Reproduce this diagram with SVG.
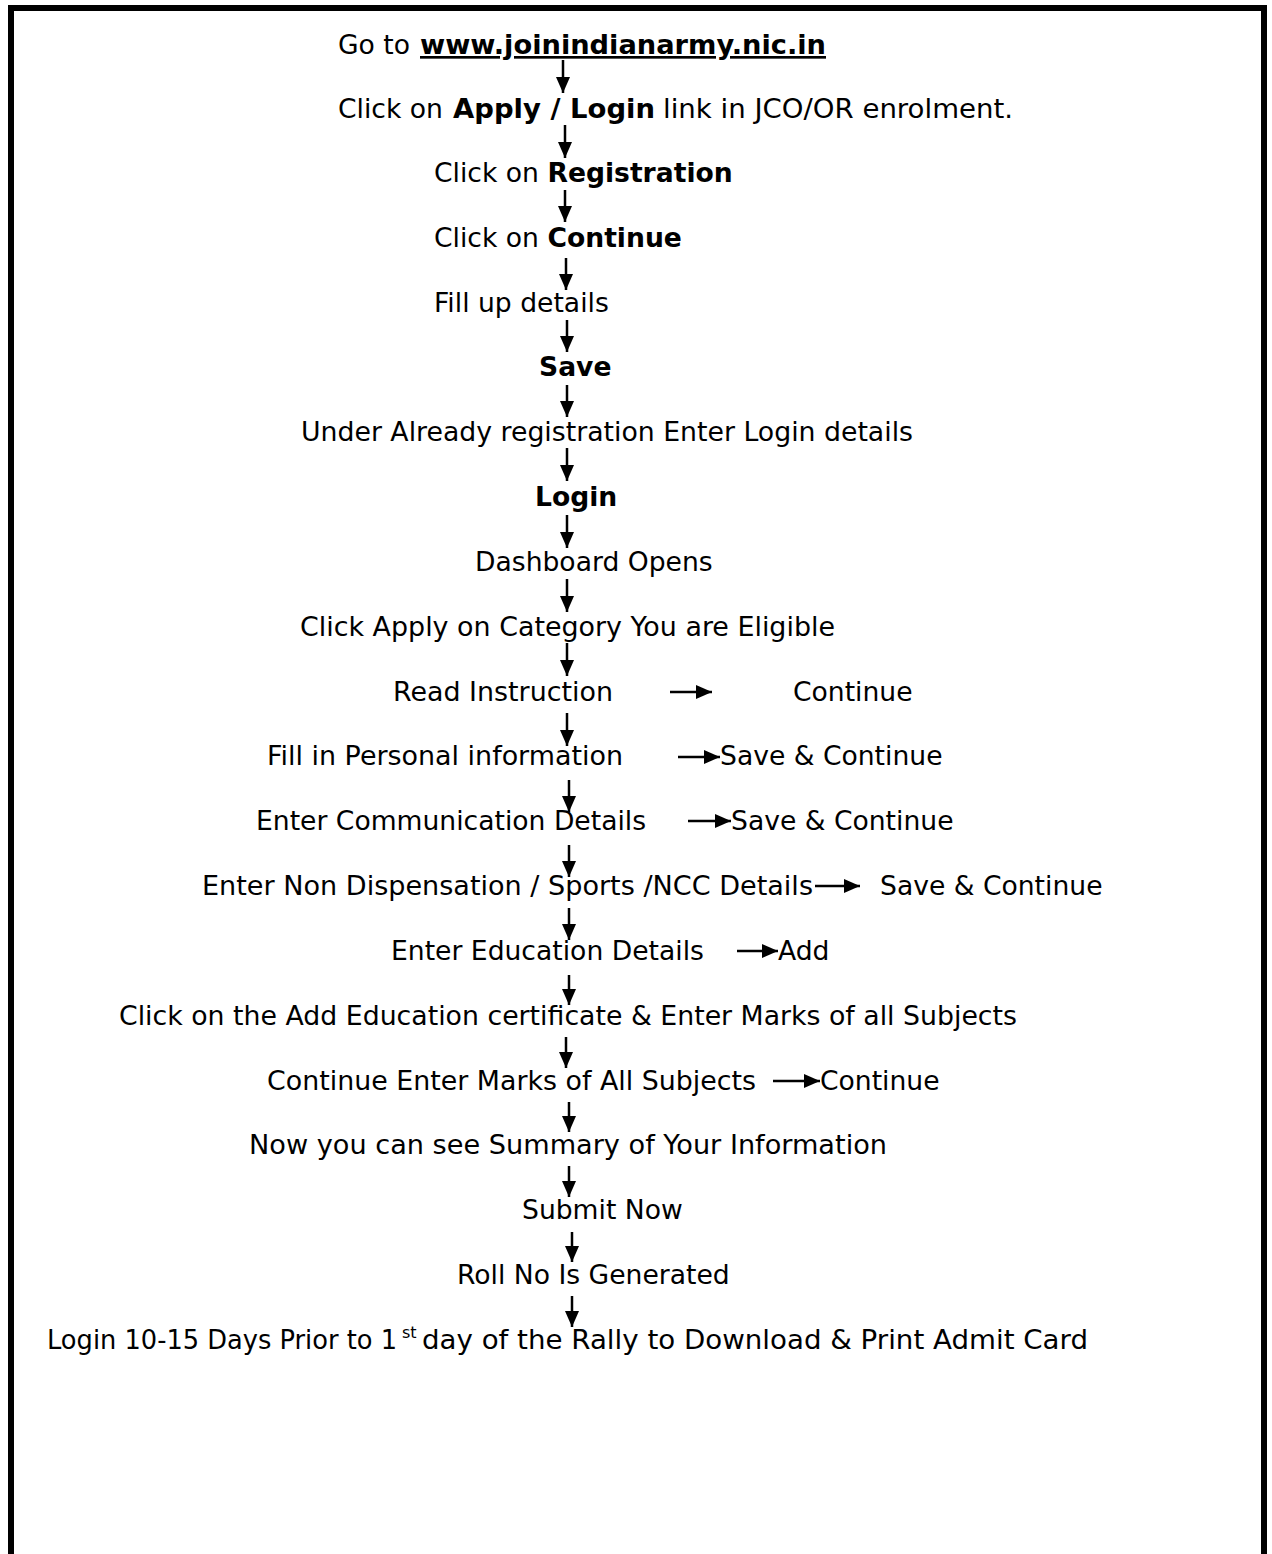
<svg xmlns="http://www.w3.org/2000/svg" width="1272" height="1554" viewBox="0 0 1272 1554">
<style>
text{font-family:"DejaVu Sans","Liberation Sans",sans-serif;font-size:26.6px;fill:#000}
.b{font-weight:bold}
.u{text-decoration:underline}
.c line{stroke:#000;stroke-width:2.5;marker-end:url(#ah)}
</style>
<defs>
<marker id="ah" viewBox="0 0 16 14" refX="16" refY="7" markerWidth="16" markerHeight="14" markerUnits="userSpaceOnUse" orient="auto">
<path d="M0,0 L16,7 L0,14 z" fill="#000"/>
</marker>
</defs>
<rect x="0" y="0" width="1272" height="1554" fill="#fff"/>
<rect x="11" y="8" width="1253" height="1600" fill="none" stroke="#000" stroke-width="6"/>
<g id="n1"><text x="338" y="54">Go to <tspan class="b u" x="420" textLength="406" lengthAdjust="spacingAndGlyphs">www.joinindianarmy.nic.in</tspan></text></g>
<g id="n2"><text x="338" y="118">Click on <tspan class="b" x="453" textLength="202" lengthAdjust="spacingAndGlyphs">Apply / Login</tspan><tspan x="663" textLength="350" lengthAdjust="spacingAndGlyphs">link in JCO/OR enrolment.</tspan></text></g>
<g id="n3"><text x="434" y="182">Click on <tspan class="b">Registration</tspan></text></g>
<g id="n4"><text x="434" y="247">Click on <tspan class="b">Continue</tspan></text></g>
<g id="n5"><text x="434" y="312">Fill up details</text></g>
<g id="n6"><text x="539" y="376" class="b">Save</text></g>
<g id="n7"><text x="301" y="441" textLength="612" lengthAdjust="spacingAndGlyphs">Under Already registration Enter Login details</text></g>
<g id="n8"><text x="535" y="506" class="b">Login</text></g>
<g id="n9"><text x="475" y="571">Dashboard Opens</text></g>
<g id="n10"><text x="300" y="636" textLength="535" lengthAdjust="spacingAndGlyphs">Click Apply on Category You are Eligible</text></g>
<g id="n11"><text x="393" y="701" textLength="220" lengthAdjust="spacingAndGlyphs">Read Instruction</text></g>
<g id="n11b"><text x="793" y="701">Continue</text></g>
<g id="n12"><text x="267" y="765" textLength="356" lengthAdjust="spacingAndGlyphs">Fill in Personal information</text></g>
<g id="n12b"><text x="720" y="765">Save &amp; Continue</text></g>
<g id="n13"><text x="256" y="830">Enter Communication Details</text></g>
<g id="n13b"><text x="731" y="830">Save &amp; Continue</text></g>
<g id="n14"><text x="202" y="895" textLength="611" lengthAdjust="spacingAndGlyphs">Enter Non Dispensation / Sports /NCC Details</text></g>
<g id="n14b"><text x="880" y="895">Save &amp; Continue</text></g>
<g id="n15"><text x="391" y="960">Enter Education Details</text></g>
<g id="n15b"><text x="778" y="960">Add</text></g>
<g id="n16"><text x="119" y="1025" textLength="898" lengthAdjust="spacingAndGlyphs">Click on the Add Education certificate &amp; Enter Marks of all Subjects</text></g>
<g id="n17"><text x="267" y="1090" textLength="489" lengthAdjust="spacingAndGlyphs">Continue Enter Marks of All Subjects</text></g>
<g id="n17b"><text x="820" y="1090">Continue</text></g>
<g id="n18"><text x="249" y="1154" textLength="638" lengthAdjust="spacingAndGlyphs">Now you can see Summary of Your Information</text></g>
<g id="n19"><text x="522" y="1219">Submit Now</text></g>
<g id="n20"><text x="457" y="1284">Roll No Is Generated</text></g>
<g id="n21"><text x="47" y="1349"><tspan textLength="350" lengthAdjust="spacingAndGlyphs">Login 10-15 Days Prior to 1</tspan><tspan x="402" font-size="16" dy="-11">st</tspan><tspan x="422" dy="11" textLength="666" lengthAdjust="spacingAndGlyphs">day of the Rally to Download &amp; Print Admit Card</tspan></text></g>
<g id="connectors" class="c">
<line x1="563" y1="60" x2="563" y2="93"/>
<line x1="565" y1="125" x2="565" y2="158"/>
<line x1="565" y1="190" x2="565" y2="222"/>
<line x1="566" y1="258" x2="566" y2="290"/>
<line x1="567" y1="320" x2="567" y2="352"/>
<line x1="567" y1="385" x2="567" y2="417"/>
<line x1="567" y1="448" x2="567" y2="481"/>
<line x1="567" y1="515" x2="567" y2="548"/>
<line x1="567" y1="579" x2="567" y2="612"/>
<line x1="567" y1="643" x2="567" y2="676"/>
<line x1="567" y1="713" x2="567" y2="746"/>
<line x1="569" y1="780" x2="569" y2="812"/>
<line x1="569" y1="845" x2="569" y2="877"/>
<line x1="569" y1="908" x2="569" y2="940"/>
<line x1="569" y1="975" x2="569" y2="1005"/>
<line x1="566" y1="1037" x2="566" y2="1068"/>
<line x1="569" y1="1102" x2="569" y2="1132"/>
<line x1="569" y1="1166" x2="569" y2="1197"/>
<line x1="572" y1="1232" x2="572" y2="1262"/>
<line x1="572" y1="1296" x2="572" y2="1327"/>
<line x1="670" y1="692" x2="712" y2="692"/>
<line x1="678" y1="757" x2="720" y2="757"/>
<line x1="688" y1="821" x2="731" y2="821"/>
<line x1="815" y1="886" x2="860" y2="886"/>
<line x1="737" y1="951" x2="778" y2="951"/>
<line x1="773" y1="1081" x2="820" y2="1081"/>
</g>
</svg>
